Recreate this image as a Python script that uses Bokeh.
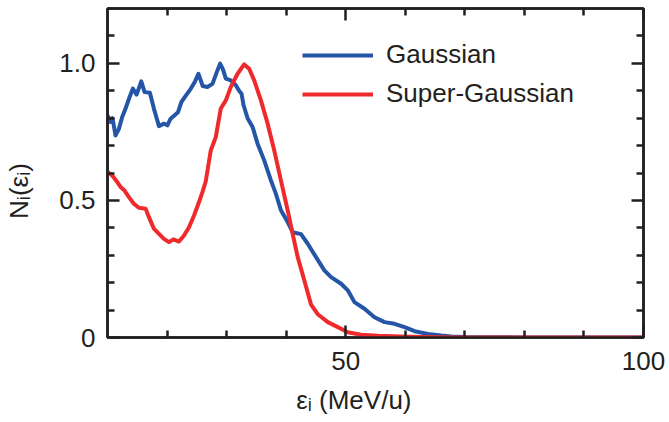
from bokeh.plotting import figure
from bokeh.models import Range1d, FixedTicker, LinearAxis, Legend, LegendItem
from bokeh.embed import file_html
from bokeh.resources import INLINE

# ---- data ----
gauss_x = [10.05, 10.5, 10.84, 11.35, 11.9, 12.47, 13.03, 13.59, 14.26, 14.88, 15.67, 16.23,
           17.12, 17.79, 18.64, 19.48, 20.05, 20.6, 21.84, 22.41, 23.18, 23.97, 24.7, 25.27,
           25.99, 26.78, 27.63, 28.35, 28.91, 29.36, 29.87, 30.71, 31.55, 32.1, 32.51, 32.85,
           33.52, 34.36, 35.2, 36.31, 37.44, 38.28, 39.12, 40.25, 41.09, 42.49, 43.62, 45.3,
           46.41, 47.54, 49.23, 50.35, 51.46, 53.15, 54.83, 56.52, 58.2, 59.88, 61.57, 63.82,
           66.06, 67.74, 70.0, 80.0, 100.0]
gauss_y = [0.81, 0.786, 0.80, 0.737, 0.76, 0.804, 0.835, 0.87, 0.908, 0.886, 0.934, 0.895,
           0.893, 0.835, 0.771, 0.78, 0.774, 0.798, 0.822, 0.859, 0.883, 0.907, 0.934, 0.962,
           0.917, 0.914, 0.925, 0.968, 0.999, 0.98, 0.944, 0.938, 0.92, 0.90, 0.889, 0.847,
           0.80, 0.768, 0.707, 0.646, 0.573, 0.524, 0.464, 0.421, 0.384, 0.377, 0.342, 0.283,
           0.245, 0.22, 0.196, 0.172, 0.129, 0.105, 0.074, 0.056, 0.05, 0.038, 0.023, 0.013,
           0.007, 0.004, 0.002, 0.0, 0.0]

super_x = [10.05, 10.79, 11.63, 12.19, 12.86, 13.59, 14.43, 15.27, 16.4, 16.95, 17.79, 18.64,
           19.48, 20.32, 21.06, 22.0, 22.85, 23.69, 24.53, 25.37, 25.94, 26.5, 27.34, 28.18,
           29.02, 29.87, 30.71, 31.84, 32.95, 33.79, 34.63, 35.76, 36.89, 38.0, 39.12, 40.25,
           41.09, 41.94, 43.05, 44.18, 45.3, 46.99, 48.67, 50.35, 52.59, 55.4, 59.33, 62.7,
           69.4, 100.0]
super_y = [0.603, 0.591, 0.567, 0.549, 0.536, 0.512, 0.488, 0.473, 0.47, 0.439, 0.397, 0.378,
           0.36, 0.348, 0.358, 0.35, 0.372, 0.402, 0.445, 0.494, 0.53, 0.57, 0.682, 0.731,
           0.835, 0.865, 0.914, 0.962, 0.996, 0.98, 0.938, 0.865, 0.78, 0.682, 0.573, 0.464,
           0.378, 0.293, 0.208, 0.12, 0.085, 0.056, 0.038, 0.019, 0.01, 0.006, 0.004, 0.002,
           0.0, 0.0]

series_names = ["Gaussian", "Super-Gaussian"]
x_title = "\u03b5\u1d62 (MeV/u)"
y_title = "N\u1d62(\u03b5\u1d62)"
x_major = [50, 100]
x_minor = [20, 30, 40, 60, 70, 80, 90]
y_major = [0, 0.5, 1.0]
y_minor = [0.1, 0.2, 0.3, 0.4, 0.6, 0.7, 0.8, 0.9, 1.1]
y_tick_labels = {0: "0", 0.5: "0.5", 1: "1.0"}

FONT = "Liberation Sans"
INK = "#231f20"
BLUE = "#2555a6"
RED = "#ee2a2d"
FS = "26px"
NB = "\u00a0"

p = figure(width=669, height=422, x_range=Range1d(10, 100), y_range=Range1d(0, 1.2),
           min_border_left=107, min_border_right=26, min_border_top=8, min_border_bottom=85,
           output_backend="svg", toolbar_location=None)
p.grid.visible = False
p.outline_line_color = INK
p.outline_line_width = 2.5
p.background_fill_color = "white"
p.border_fill_color = "white"

r1 = p.line(gauss_x, gauss_y, line_color=BLUE, line_width=4, line_join="round")
r2 = p.line(super_x, super_y, line_color=RED, line_width=4, line_join="round")

xt = FixedTicker(ticks=x_major, minor_ticks=x_minor)
yt = FixedTicker(ticks=y_major, minor_ticks=y_minor)

def style(ax, labels=True):
    ax.axis_line_color = INK
    ax.axis_line_width = 2.5
    ax.major_tick_line_color = INK
    ax.minor_tick_line_color = INK
    ax.major_tick_line_width = 2.5
    ax.minor_tick_line_width = 2.5
    ax.major_tick_in = 12
    ax.major_tick_out = 0
    ax.minor_tick_in = 7
    ax.minor_tick_out = 0
    if labels:
        ax.major_label_text_font = FONT
        ax.major_label_text_font_size = FS
        ax.major_label_text_color = INK
        ax.axis_label_text_font = FONT
        ax.axis_label_text_font_size = FS
        ax.axis_label_text_font_style = "normal"
        ax.axis_label_text_color = INK
    else:
        ax.major_label_overrides = {t: "" for t in ax.ticker.ticks}
        ax.major_label_standoff = 0

xa = p.xaxis[0]
xa.ticker = xt
style(xa)
xa.major_label_standoff = 14
xa.axis_label = x_title + NB * 6
xa.axis_label_standoff = 12

ya = p.yaxis[0]
ya.ticker = yt
style(ya)
ya.major_label_standoff = 12
ya.major_label_overrides = y_tick_labels
ya.axis_label = y_title + NB * 5
ya.axis_label_standoff = 22

top = LinearAxis(ticker=xt)
style(top, labels=False)
p.add_layout(top, "above")
right = LinearAxis(ticker=yt)
style(right, labels=False)
p.add_layout(right, "right")

legend = Legend(items=[LegendItem(label=series_names[0], renderers=[r1]),
                       LegendItem(label=series_names[1], renderers=[r2])],
                location=(195, 228), glyph_width=71, glyph_height=30, label_height=30,
                spacing=8, padding=0, margin=0, border_line_color=None,
                background_fill_alpha=0, label_text_font=FONT, label_text_font_size=FS,
                label_text_color=INK, label_standoff=13)
p.add_layout(legend)

open("out.html", "w").write(file_html(p, INLINE))
